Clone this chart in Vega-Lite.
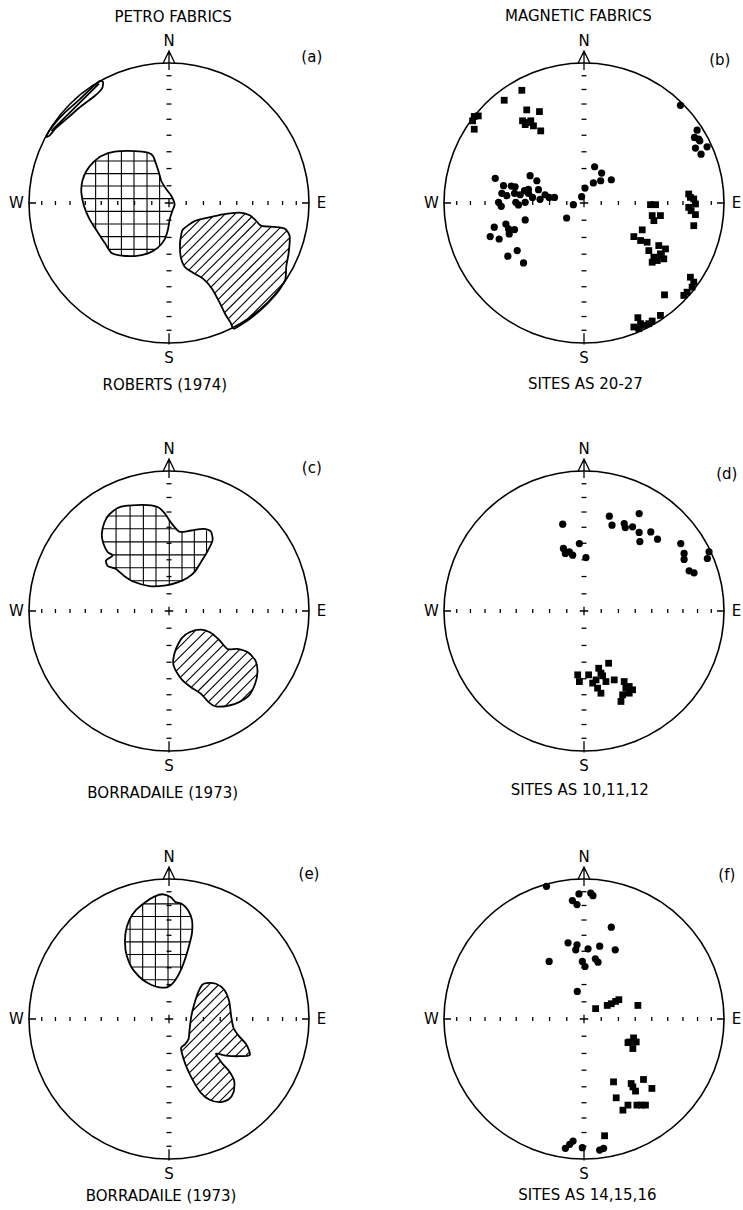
{
  "$schema": "https://vega.github.io/schema/vega-lite/v6.json",
  "padding": 0,
  "background": "white",
  "bounds": "flush",
  "data": {
    "values": [
      {"k":"pt","az":10,"p":["a","b","c","d","e","f"]},{"k":"pt","az":20,"p":["a","b","c","d","e","f"]},{"k":"pt","az":30,"p":["a","b","c","d","e","f"]},{"k":"pt","az":40,"p":["a","b","c","d","e","f"]},
      {"k":"pt","az":50,"p":["a","b","c","d","e","f"]},{"k":"pt","az":60,"p":["a","b","c","d","e","f"]},{"k":"pt","az":70,"p":["a","b","c","d","e","f"]},{"k":"pt","az":80,"p":["a","b","c","d","e","f"]},
      {"k":"pt","az":100,"p":["a","b","c","d","e","f"]},{"k":"pt","az":110,"p":["a","b","c","d","e","f"]},{"k":"pt","az":120,"p":["a","b","c","d","e","f"]},{"k":"pt","az":130,"p":["a","b","c","d","e","f"]},
      {"k":"pt","az":140,"p":["a","b","c","d","e","f"]},{"k":"pt","az":150,"p":["a","b","c","d","e","f"]},{"k":"pt","az":160,"p":["a","b","c","d","e","f"]},{"k":"pt","az":170,"p":["a","b","c","d","e","f"]},
      {"k":"pt","az":190,"p":["a","b","c","d","e","f"]},{"k":"pt","az":200,"p":["a","b","c","d","e","f"]},{"k":"pt","az":210,"p":["a","b","c","d","e","f"]},{"k":"pt","az":220,"p":["a","b","c","d","e","f"]},
      {"k":"pt","az":230,"p":["a","b","c","d","e","f"]},{"k":"pt","az":240,"p":["a","b","c","d","e","f"]},{"k":"pt","az":250,"p":["a","b","c","d","e","f"]},{"k":"pt","az":260,"p":["a","b","c","d","e","f"]},
      {"k":"pt","az":280,"p":["a","b","c","d","e","f"]},{"k":"pt","az":290,"p":["a","b","c","d","e","f"]},{"k":"pt","az":300,"p":["a","b","c","d","e","f"]},{"k":"pt","az":310,"p":["a","b","c","d","e","f"]},
      {"k":"pt","az":320,"p":["a","b","c","d","e","f"]},{"k":"pt","az":330,"p":["a","b","c","d","e","f"]},{"k":"pt","az":340,"p":["a","b","c","d","e","f"]},{"k":"pt","az":350,"p":["a","b","c","d","e","f"]},

      {"k":"ew","x":0.123,"y":0,"p":["a","b","c","d","e","f"]},{"k":"ew","x":0.246,"y":0,"p":["a","b","c","d","e","f"]},{"k":"ew","x":0.366,"y":0,"p":["a","b","c","d","e","f"]},{"k":"ew","x":0.484,"y":0,"p":["a","b","c","d","e","f"]},
      {"k":"ew","x":0.598,"y":0,"p":["a","b","c","d","e","f"]},{"k":"ew","x":0.707,"y":0,"p":["a","b","c","d","e","f"]},{"k":"ew","x":0.811,"y":0,"p":["a","b","c","d","e","f"]},{"k":"ew","x":0.909,"y":0,"p":["a","b","c","d","e","f"]},
      {"k":"ew","x":-0.123,"y":0,"p":["a","b","c","d","e","f"]},{"k":"ew","x":-0.246,"y":0,"p":["a","b","c","d","e","f"]},{"k":"ew","x":-0.366,"y":0,"p":["a","b","c","d","e","f"]},{"k":"ew","x":-0.484,"y":0,"p":["a","b","c","d","e","f"]},
      {"k":"ew","x":-0.598,"y":0,"p":["a","b","c","d","e","f"]},{"k":"ew","x":-0.707,"y":0,"p":["a","b","c","d","e","f"]},{"k":"ew","x":-0.811,"y":0,"p":["a","b","c","d","e","f"]},{"k":"ew","x":-0.909,"y":0,"p":["a","b","c","d","e","f"]},
      {"k":"ns","x":0,"y":0.123,"p":["a","b","c","d","e","f"]},{"k":"ns","x":0,"y":0.246,"p":["a","b","c","d","e","f"]},{"k":"ns","x":0,"y":0.366,"p":["a","b","c","d","e","f"]},{"k":"ns","x":0,"y":0.484,"p":["a","b","c","d","e","f"]},
      {"k":"ns","x":0,"y":0.598,"p":["a","b","c","d","e","f"]},{"k":"ns","x":0,"y":0.707,"p":["a","b","c","d","e","f"]},{"k":"ns","x":0,"y":0.811,"p":["a","b","c","d","e","f"]},{"k":"ns","x":0,"y":0.909,"p":["a","b","c","d","e","f"]},
      {"k":"ns","x":0,"y":-0.123,"p":["a","b","c","d","e","f"]},{"k":"ns","x":0,"y":-0.246,"p":["a","b","c","d","e","f"]},{"k":"ns","x":0,"y":-0.366,"p":["a","b","c","d","e","f"]},{"k":"ns","x":0,"y":-0.484,"p":["a","b","c","d","e","f"]},
      {"k":"ns","x":0,"y":-0.598,"p":["a","b","c","d","e","f"]},{"k":"ns","x":0,"y":-0.707,"p":["a","b","c","d","e","f"]},{"k":"ns","x":0,"y":-0.811,"p":["a","b","c","d","e","f"]},{"k":"ns","x":0,"y":-0.909,"p":["a","b","c","d","e","f"]},

      {"k":"nsew","t":"N","x":0,"y":1.155,"p":["a","b","c","d","e","f"]},
      {"k":"nsew","t":"S","x":0,"y":-1.11,"p":["a","b","c","d","e","f"]},
      {"k":"nsew","t":"W","x":-1.09,"y":0,"p":["a","b","c","d","e","f"]},
      {"k":"nsew","t":"E","x":1.09,"y":0,"p":["a","b","c","d","e","f"]},

      {"k":"lab","t":"(a)","x":1.02,"y":1.045,"p":["a"]},
      {"k":"lab","t":"(b)","x":0.97,"y":1.02,"p":["b"]},
      {"k":"lab","t":"(c)","x":1.02,"y":1.024,"p":["c"]},
      {"k":"lab","t":"(d)","x":1.02,"y":0.976,"p":["d"]},
      {"k":"lab","t":"(e)","x":1.0,"y":1.036,"p":["e"]},
      {"k":"lab","t":"(f)","x":1.02,"y":1.029,"p":["f"]},

      {"k":"cap","t":"PETRO FABRICS","x":0.03,"y":1.33,"p":["a"]},
      {"k":"cap","t":"MAGNETIC FABRICS","x":-0.04,"y":1.335,"p":["b"]},
      {"k":"cap","t":"ROBERTS (1974)","x":-0.03,"y":-1.3,"p":["a"]},
      {"k":"cap","t":"SITES  AS 20-27","x":0.01,"y":-1.295,"p":["b"]},
      {"k":"cap","t":"BORRADAILE (1973)","x":-0.045,"y":-1.297,"p":["c"]},
      {"k":"cap","t":"SITES  AS 10,11,12","x":-0.03,"y":-1.276,"p":["d"]},
      {"k":"cap","t":"BORRADAILE (1973)","x":-0.057,"y":-1.264,"p":["e"]},
      {"k":"cap","t":"SITES  AS 14,15,16","x":0.024,"y":-1.257,"p":["f"]},

      {"k":"h","x":-0.524,"y":0.305,"x2":-0.524,"y2":-0.188,"p":["a"]},
      {"k":"h","x":-0.433,"y":0.352,"x2":-0.433,"y2":-0.321,"p":["a"]},
      {"k":"h","x":-0.340,"y":0.369,"x2":-0.340,"y2":-0.374,"p":["a"]},
      {"k":"h","x":-0.250,"y":0.371,"x2":-0.250,"y2":-0.379,"p":["a"]},
      {"k":"h","x":-0.157,"y":0.362,"x2":-0.157,"y2":-0.362,"p":["a"]},
      {"k":"h","x":-0.067,"y":0.200,"x2":-0.067,"y2":-0.305,"p":["a"]},
      {"k":"h","x":-0.529,"y":0.300,"x2":-0.100,"y2":0.300,"p":["a"]},
      {"k":"h","x":-0.598,"y":0.210,"x2":-0.069,"y2":0.210,"p":["a"]},
      {"k":"h","x":-0.624,"y":0.121,"x2":-0.033,"y2":0.121,"p":["a"]},
      {"k":"h","x":-0.617,"y":0.031,"x2":0.024,"y2":0.031,"p":["a"]},
      {"k":"h","x":-0.590,"y":-0.060,"x2":0.023,"y2":-0.060,"p":["a"]},
      {"k":"h","x":-0.545,"y":-0.150,"x2":0.000,"y2":-0.150,"p":["a"]},
      {"k":"h","x":-0.488,"y":-0.240,"x2":-0.024,"y2":-0.240,"p":["a"]},
      {"k":"h","x":-0.429,"y":-0.331,"x2":-0.100,"y2":-0.331,"p":["a"]},

      {"k":"h","x":0.083,"y":-0.257,"x2":0.220,"y2":-0.120,"p":["a"]},
      {"k":"h","x":0.081,"y":-0.329,"x2":0.312,"y2":-0.097,"p":["a"]},
      {"k":"h","x":0.088,"y":-0.392,"x2":0.400,"y2":-0.080,"p":["a"]},
      {"k":"h","x":0.107,"y":-0.443,"x2":0.478,"y2":-0.072,"p":["a"]},
      {"k":"h","x":0.143,"y":-0.477,"x2":0.541,"y2":-0.079,"p":["a"]},
      {"k":"h","x":0.184,"y":-0.506,"x2":0.590,"y2":-0.100,"p":["a"]},
      {"k":"h","x":0.228,"y":-0.532,"x2":0.628,"y2":-0.132,"p":["a"]},
      {"k":"h","x":0.265,"y":-0.565,"x2":0.666,"y2":-0.164,"p":["a"]},
      {"k":"h","x":0.298,"y":-0.602,"x2":0.731,"y2":-0.169,"p":["a"]},
      {"k":"h","x":0.325,"y":-0.645,"x2":0.793,"y2":-0.177,"p":["a"]},
      {"k":"h","x":0.350,"y":-0.690,"x2":0.839,"y2":-0.201,"p":["a"]},
      {"k":"h","x":0.374,"y":-0.736,"x2":0.861,"y2":-0.249,"p":["a"]},
      {"k":"h","x":0.396,"y":-0.784,"x2":0.857,"y2":-0.323,"p":["a"]},
      {"k":"h","x":0.423,"y":-0.827,"x2":0.846,"y2":-0.404,"p":["a"]},
      {"k":"h","x":0.448,"y":-0.872,"x2":0.835,"y2":-0.485,"p":["a"]},
      {"k":"h","x":0.535,"y":-0.855,"x2":0.812,"y2":-0.578,"p":["a"]},

      {"k":"h","x":-0.378,"y":0.722,"x2":-0.378,"y2":0.299,"p":["c"]},
      {"k":"h","x":-0.278,"y":0.751,"x2":-0.278,"y2":0.223,"p":["c"]},
      {"k":"h","x":-0.183,"y":0.758,"x2":-0.183,"y2":0.188,"p":["c"]},
      {"k":"h","x":-0.093,"y":0.746,"x2":-0.093,"y2":0.178,"p":["c"]},
      {"k":"h","x":0.002,"y":0.650,"x2":0.002,"y2":0.187,"p":["c"]},
      {"k":"h","x":0.093,"y":0.568,"x2":0.093,"y2":0.216,"p":["c"]},
      {"k":"h","x":0.181,"y":0.576,"x2":0.181,"y2":0.276,"p":["c"]},
      {"k":"h","x":0.268,"y":0.576,"x2":0.268,"y2":0.413,"p":["c"]},
      {"k":"h","x":-0.432,"y":0.679,"x2":-0.017,"y2":0.679,"p":["c"]},
      {"k":"h","x":-0.471,"y":0.587,"x2":0.055,"y2":0.587,"p":["c"]},
      {"k":"h","x":-0.471,"y":0.494,"x2":0.308,"y2":0.494,"p":["c"]},
      {"k":"h","x":-0.412,"y":0.401,"x2":0.261,"y2":0.401,"p":["c"]},
      {"k":"h","x":-0.410,"y":0.309,"x2":0.204,"y2":0.309,"p":["c"]},
      {"k":"h","x":-0.267,"y":0.216,"x2":0.102,"y2":0.216,"p":["c"]},

      {"k":"h","x":0.047,"y":-0.283,"x2":0.188,"y2":-0.142,"p":["c"]},
      {"k":"h","x":0.032,"y":-0.373,"x2":0.262,"y2":-0.143,"p":["c"]},
      {"k":"h","x":0.051,"y":-0.429,"x2":0.312,"y2":-0.168,"p":["c"]},
      {"k":"h","x":0.081,"y":-0.474,"x2":0.353,"y2":-0.202,"p":["c"]},
      {"k":"h","x":0.118,"y":-0.512,"x2":0.390,"y2":-0.240,"p":["c"]},
      {"k":"h","x":0.159,"y":-0.546,"x2":0.434,"y2":-0.271,"p":["c"]},
      {"k":"h","x":0.205,"y":-0.575,"x2":0.504,"y2":-0.276,"p":["c"]},
      {"k":"h","x":0.245,"y":-0.610,"x2":0.559,"y2":-0.296,"p":["c"]},
      {"k":"h","x":0.281,"y":-0.649,"x2":0.597,"y2":-0.333,"p":["c"]},
      {"k":"h","x":0.327,"y":-0.678,"x2":0.623,"y2":-0.382,"p":["c"]},
      {"k":"h","x":0.403,"y":-0.677,"x2":0.629,"y2":-0.451,"p":["c"]},
      {"k":"h","x":0.510,"y":-0.645,"x2":0.594,"y2":-0.562,"p":["c"]},

      {"k":"h","x":-0.278,"y":0.715,"x2":-0.278,"y2":0.392,"p":["e"]},
      {"k":"h","x":-0.188,"y":0.819,"x2":-0.188,"y2":0.280,"p":["e"]},
      {"k":"h","x":-0.097,"y":0.876,"x2":-0.097,"y2":0.235,"p":["e"]},
      {"k":"h","x":-0.007,"y":0.877,"x2":-0.007,"y2":0.228,"p":["e"]},
      {"k":"h","x":0.083,"y":0.825,"x2":0.083,"y2":0.347,"p":["e"]},
      {"k":"h","x":-0.184,"y":0.822,"x2":0.093,"y2":0.822,"p":["e"]},
      {"k":"h","x":-0.267,"y":0.732,"x2":0.154,"y2":0.732,"p":["e"]},
      {"k":"h","x":-0.303,"y":0.641,"x2":0.164,"y2":0.641,"p":["e"]},
      {"k":"h","x":-0.311,"y":0.551,"x2":0.150,"y2":0.551,"p":["e"]},
      {"k":"h","x":-0.301,"y":0.461,"x2":0.125,"y2":0.461,"p":["e"]},
      {"k":"h","x":-0.266,"y":0.371,"x2":0.093,"y2":0.371,"p":["e"]},
      {"k":"h","x":-0.188,"y":0.280,"x2":0.045,"y2":0.280,"p":["e"]},

      {"k":"h","x":0.197,"y":0.157,"x2":0.295,"y2":0.255,"p":["e"]},
      {"k":"h","x":0.169,"y":0.059,"x2":0.351,"y2":0.241,"p":["e"]},
      {"k":"h","x":0.153,"y":-0.027,"x2":0.391,"y2":0.211,"p":["e"]},
      {"k":"h","x":0.144,"y":-0.106,"x2":0.414,"y2":0.164,"p":["e"]},
      {"k":"h","x":0.091,"y":-0.229,"x2":0.432,"y2":0.112,"p":["e"]},
      {"k":"h","x":0.105,"y":-0.285,"x2":0.440,"y2":0.050,"p":["e"]},
      {"k":"h","x":0.124,"y":-0.336,"x2":0.450,"y2":-0.010,"p":["e"]},
      {"k":"h","x":0.145,"y":-0.385,"x2":0.463,"y2":-0.067,"p":["e"]},
      {"k":"h","x":0.169,"y":-0.431,"x2":0.491,"y2":-0.109,"p":["e"]},
      {"k":"h","x":0.194,"y":-0.476,"x2":0.369,"y2":-0.301,"p":["e"]},
      {"k":"h","x":0.409,"y":-0.261,"x2":0.522,"y2":-0.148,"p":["e"]},
      {"k":"h","x":0.222,"y":-0.518,"x2":0.400,"y2":-0.339,"p":["e"]},
      {"k":"h","x":0.475,"y":-0.265,"x2":0.554,"y2":-0.186,"p":["e"]},
      {"k":"h","x":0.258,"y":-0.552,"x2":0.432,"y2":-0.378,"p":["e"]},
      {"k":"h","x":0.550,"y":-0.260,"x2":0.571,"y2":-0.239,"p":["e"]},
      {"k":"h","x":0.301,"y":-0.579,"x2":0.456,"y2":-0.424,"p":["e"]},
      {"k":"h","x":0.357,"y":-0.593,"x2":0.463,"y2":-0.487,"p":["e"]},

      {"k":"o","id":"a1","i":0,"x":-0.150,"y":0.360,"p":["a"]},{"k":"o","id":"a1","i":1,"x":-0.114,"y":0.336,"p":["a"]},{"k":"o","id":"a1","i":2,"x":-0.079,"y":0.240,"p":["a"]},
      {"k":"o","id":"a1","i":3,"x":-0.055,"y":0.157,"p":["a"]},{"k":"o","id":"a1","i":4,"x":-0.019,"y":0.098,"p":["a"]},{"k":"o","id":"a1","i":5,"x":0.017,"y":0.050,"p":["a"]},
      {"k":"o","id":"a1","i":6,"x":0.040,"y":-0.010,"p":["a"]},{"k":"o","id":"a1","i":7,"x":0.024,"y":-0.057,"p":["a"]},{"k":"o","id":"a1","i":8,"x":0.005,"y":-0.117,"p":["a"]},
      {"k":"o","id":"a1","i":9,"x":-0.007,"y":-0.188,"p":["a"]},{"k":"o","id":"a1","i":10,"x":-0.031,"y":-0.260,"p":["a"]},{"k":"o","id":"a1","i":11,"x":-0.079,"y":-0.319,"p":["a"]},
      {"k":"o","id":"a1","i":12,"x":-0.150,"y":-0.360,"p":["a"]},{"k":"o","id":"a1","i":13,"x":-0.245,"y":-0.379,"p":["a"]},{"k":"o","id":"a1","i":14,"x":-0.352,"y":-0.374,"p":["a"]},
      {"k":"o","id":"a1","i":15,"x":-0.412,"y":-0.355,"p":["a"]},{"k":"o","id":"a1","i":16,"x":-0.460,"y":-0.283,"p":["a"]},{"k":"o","id":"a1","i":17,"x":-0.507,"y":-0.212,"p":["a"]},
      {"k":"o","id":"a1","i":18,"x":-0.567,"y":-0.117,"p":["a"]},{"k":"o","id":"a1","i":19,"x":-0.607,"y":-0.021,"p":["a"]},{"k":"o","id":"a1","i":20,"x":-0.626,"y":0.074,"p":["a"]},
      {"k":"o","id":"a1","i":21,"x":-0.619,"y":0.157,"p":["a"]},{"k":"o","id":"a1","i":22,"x":-0.590,"y":0.229,"p":["a"]},{"k":"o","id":"a1","i":23,"x":-0.543,"y":0.288,"p":["a"]},
      {"k":"o","id":"a1","i":24,"x":-0.483,"y":0.336,"p":["a"]},{"k":"o","id":"a1","i":25,"x":-0.388,"y":0.367,"p":["a"]},{"k":"o","id":"a1","i":26,"x":-0.245,"y":0.371,"p":["a"]},

      {"k":"o","id":"a2","i":0,"x":0.100,"y":-0.188,"p":["a"]},{"k":"o","id":"a2","i":1,"x":0.183,"y":-0.129,"p":["a"]},{"k":"o","id":"a2","i":2,"x":0.279,"y":-0.105,"p":["a"]},
      {"k":"o","id":"a2","i":3,"x":0.386,"y":-0.081,"p":["a"]},{"k":"o","id":"a2","i":4,"x":0.505,"y":-0.069,"p":["a"]},{"k":"o","id":"a2","i":5,"x":0.576,"y":-0.088,"p":["a"]},
      {"k":"o","id":"a2","i":6,"x":0.624,"y":-0.129,"p":["a"]},{"k":"o","id":"a2","i":7,"x":0.660,"y":-0.164,"p":["a"]},{"k":"o","id":"a2","i":8,"x":0.755,"y":-0.171,"p":["a"]},
      {"k":"o","id":"a2","i":9,"x":0.826,"y":-0.183,"p":["a"]},{"k":"o","id":"a2","i":10,"x":0.862,"y":-0.236,"p":["a"]},{"k":"o","id":"a2","i":11,"x":0.855,"y":-0.355,"p":["a"]},
      {"k":"o","id":"a2","i":12,"x":0.838,"y":-0.450,"p":["a"]},{"k":"o","id":"a2","i":13,"x":0.831,"y":-0.545,"p":["a"]},{"k":"o","id":"a2","i":14,"x":0.790,"y":-0.617,"p":["a"]},
      {"k":"o","id":"a2","i":15,"x":0.731,"y":-0.688,"p":["a"]},{"k":"o","id":"a2","i":16,"x":0.660,"y":-0.760,"p":["a"]},{"k":"o","id":"a2","i":17,"x":0.588,"y":-0.819,"p":["a"]},
      {"k":"o","id":"a2","i":18,"x":0.517,"y":-0.867,"p":["a"]},{"k":"o","id":"a2","i":19,"x":0.462,"y":-0.898,"p":["a"]},{"k":"o","id":"a2","i":20,"x":0.440,"y":-0.855,"p":["a"]},
      {"k":"o","id":"a2","i":21,"x":0.402,"y":-0.795,"p":["a"]},{"k":"o","id":"a2","i":22,"x":0.362,"y":-0.712,"p":["a"]},{"k":"o","id":"a2","i":23,"x":0.307,"y":-0.612,"p":["a"]},
      {"k":"o","id":"a2","i":24,"x":0.243,"y":-0.540,"p":["a"]},{"k":"o","id":"a2","i":25,"x":0.171,"y":-0.498,"p":["a"]},{"k":"o","id":"a2","i":26,"x":0.112,"y":-0.455,"p":["a"]},
      {"k":"o","id":"a2","i":27,"x":0.083,"y":-0.379,"p":["a"]},{"k":"o","id":"a2","i":28,"x":0.079,"y":-0.283,"p":["a"]},{"k":"o","id":"a2","i":29,"x":0.088,"y":-0.224,"p":["a"]},

      {"k":"o","id":"a3","i":0,"x":-0.876,"y":0.474,"p":["a"]},{"k":"o","id":"a3","i":1,"x":-0.840,"y":0.538,"p":["a"]},{"k":"o","id":"a3","i":2,"x":-0.745,"y":0.645,"p":["a"]},
      {"k":"o","id":"a3","i":3,"x":-0.638,"y":0.740,"p":["a"]},{"k":"o","id":"a3","i":4,"x":-0.543,"y":0.831,"p":["a"]},{"k":"o","id":"a3","i":5,"x":-0.495,"y":0.871,"p":["a"]},
      {"k":"o","id":"a3","i":6,"x":-0.471,"y":0.864,"p":["a"]},{"k":"o","id":"a3","i":7,"x":-0.479,"y":0.817,"p":["a"]},{"k":"o","id":"a3","i":8,"x":-0.531,"y":0.764,"p":["a"]},
      {"k":"o","id":"a3","i":9,"x":-0.626,"y":0.693,"p":["a"]},{"k":"o","id":"a3","i":10,"x":-0.721,"y":0.610,"p":["a"]},{"k":"o","id":"a3","i":11,"x":-0.805,"y":0.538,"p":["a"]},
      {"k":"o","id":"a3","i":12,"x":-0.852,"y":0.483,"p":["a"]},
      {"k":"o","id":"a4","i":0,"x":-0.840,"y":0.515,"p":["a"]},{"k":"o","id":"a4","i":1,"x":-0.500,"y":0.852,"p":["a"]},

      {"k":"o","id":"c1","i":0,"x":-0.425,"y":0.691,"p":["c"]},{"k":"o","id":"c1","i":1,"x":-0.342,"y":0.746,"p":["c"]},{"k":"o","id":"c1","i":2,"x":-0.188,"y":0.758,"p":["c"]},
      {"k":"o","id":"c1","i":3,"x":-0.081,"y":0.743,"p":["c"]},{"k":"o","id":"c1","i":4,"x":-0.029,"y":0.696,"p":["c"]},{"k":"o","id":"c1","i":5,"x":0.014,"y":0.632,"p":["c"]},
      {"k":"o","id":"c1","i":6,"x":0.074,"y":0.566,"p":["c"]},{"k":"o","id":"c1","i":7,"x":0.157,"y":0.575,"p":["c"]},{"k":"o","id":"c1","i":8,"x":0.245,"y":0.587,"p":["c"]},
      {"k":"o","id":"c1","i":9,"x":0.299,"y":0.568,"p":["c"]},{"k":"o","id":"c1","i":10,"x":0.311,"y":0.504,"p":["c"]},{"k":"o","id":"c1","i":11,"x":0.276,"y":0.428,"p":["c"]},
      {"k":"o","id":"c1","i":12,"x":0.228,"y":0.349,"p":["c"]},{"k":"o","id":"c1","i":13,"x":0.188,"y":0.285,"p":["c"]},{"k":"o","id":"c1","i":14,"x":0.133,"y":0.237,"p":["c"]},
      {"k":"o","id":"c1","i":15,"x":0.062,"y":0.204,"p":["c"]},{"k":"o","id":"c1","i":16,"x":-0.021,"y":0.183,"p":["c"]},{"k":"o","id":"c1","i":17,"x":-0.140,"y":0.178,"p":["c"]},
      {"k":"o","id":"c1","i":18,"x":-0.247,"y":0.207,"p":["c"]},{"k":"o","id":"c1","i":19,"x":-0.318,"y":0.249,"p":["c"]},{"k":"o","id":"c1","i":20,"x":-0.382,"y":0.302,"p":["c"]},
      {"k":"o","id":"c1","i":21,"x":-0.437,"y":0.321,"p":["c"]},{"k":"o","id":"c1","i":22,"x":-0.449,"y":0.361,"p":["c"]},{"k":"o","id":"c1","i":23,"x":-0.401,"y":0.397,"p":["c"]},
      {"k":"o","id":"c1","i":24,"x":-0.437,"y":0.420,"p":["c"]},{"k":"o","id":"c1","i":25,"x":-0.468,"y":0.480,"p":["c"]},{"k":"o","id":"c1","i":26,"x":-0.480,"y":0.551,"p":["c"]},
      {"k":"o","id":"c1","i":27,"x":-0.461,"y":0.634,"p":["c"]},

      {"k":"o","id":"c2","i":0,"x":0.031,"y":-0.342,"p":["c"]},{"k":"o","id":"c2","i":1,"x":0.050,"y":-0.271,"p":["c"]},{"k":"o","id":"c2","i":2,"x":0.093,"y":-0.192,"p":["c"]},
      {"k":"o","id":"c2","i":3,"x":0.150,"y":-0.150,"p":["c"]},{"k":"o","id":"c2","i":4,"x":0.228,"y":-0.133,"p":["c"]},{"k":"o","id":"c2","i":5,"x":0.292,"y":-0.152,"p":["c"]},
      {"k":"o","id":"c2","i":6,"x":0.359,"y":-0.207,"p":["c"]},{"k":"o","id":"c2","i":7,"x":0.418,"y":-0.271,"p":["c"]},{"k":"o","id":"c2","i":8,"x":0.489,"y":-0.271,"p":["c"]},
      {"k":"o","id":"c2","i":9,"x":0.568,"y":-0.299,"p":["c"]},{"k":"o","id":"c2","i":10,"x":0.620,"y":-0.359,"p":["c"]},{"k":"o","id":"c2","i":11,"x":0.632,"y":-0.437,"p":["c"]},
      {"k":"o","id":"c2","i":12,"x":0.615,"y":-0.520,"p":["c"]},{"k":"o","id":"c2","i":13,"x":0.572,"y":-0.603,"p":["c"]},{"k":"o","id":"c2","i":14,"x":0.501,"y":-0.651,"p":["c"]},
      {"k":"o","id":"c2","i":15,"x":0.430,"y":-0.675,"p":["c"]},{"k":"o","id":"c2","i":16,"x":0.335,"y":-0.682,"p":["c"]},{"k":"o","id":"c2","i":17,"x":0.283,"y":-0.651,"p":["c"]},
      {"k":"o","id":"c2","i":18,"x":0.228,"y":-0.591,"p":["c"]},{"k":"o","id":"c2","i":19,"x":0.157,"y":-0.544,"p":["c"]},{"k":"o","id":"c2","i":20,"x":0.097,"y":-0.496,"p":["c"]},
      {"k":"o","id":"c2","i":21,"x":0.055,"y":-0.437,"p":["c"]},{"k":"o","id":"c2","i":22,"x":0.033,"y":-0.390,"p":["c"]},

      {"k":"o","id":"e1","i":0,"x":-0.105,"y":0.874,"p":["e"]},{"k":"o","id":"e1","i":1,"x":-0.045,"y":0.891,"p":["e"]},{"k":"o","id":"e1","i":2,"x":0.014,"y":0.869,"p":["e"]},
      {"k":"o","id":"e1","i":3,"x":0.045,"y":0.836,"p":["e"]},{"k":"o","id":"e1","i":4,"x":0.093,"y":0.822,"p":["e"]},{"k":"o","id":"e1","i":5,"x":0.135,"y":0.779,"p":["e"]},
      {"k":"o","id":"e1","i":6,"x":0.164,"y":0.708,"p":["e"]},{"k":"o","id":"e1","i":7,"x":0.164,"y":0.613,"p":["e"]},{"k":"o","id":"e1","i":8,"x":0.145,"y":0.530,"p":["e"]},
      {"k":"o","id":"e1","i":9,"x":0.121,"y":0.447,"p":["e"]},{"k":"o","id":"e1","i":10,"x":0.086,"y":0.352,"p":["e"]},{"k":"o","id":"e1","i":11,"x":0.038,"y":0.268,"p":["e"]},
      {"k":"o","id":"e1","i":12,"x":-0.010,"y":0.228,"p":["e"]},{"k":"o","id":"e1","i":13,"x":-0.069,"y":0.226,"p":["e"]},{"k":"o","id":"e1","i":14,"x":-0.128,"y":0.245,"p":["e"]},
      {"k":"o","id":"e1","i":15,"x":-0.188,"y":0.280,"p":["e"]},{"k":"o","id":"e1","i":16,"x":-0.247,"y":0.340,"p":["e"]},{"k":"o","id":"e1","i":17,"x":-0.283,"y":0.399,"p":["e"]},
      {"k":"o","id":"e1","i":18,"x":-0.311,"y":0.494,"p":["e"]},{"k":"o","id":"e1","i":19,"x":-0.311,"y":0.613,"p":["e"]},{"k":"o","id":"e1","i":20,"x":-0.283,"y":0.708,"p":["e"]},
      {"k":"o","id":"e1","i":21,"x":-0.235,"y":0.779,"p":["e"]},{"k":"o","id":"e1","i":22,"x":-0.164,"y":0.838,"p":["e"]},

      {"k":"o","id":"e2","i":0,"x":0.264,"y":0.257,"p":["e"]},{"k":"o","id":"e2","i":1,"x":0.335,"y":0.252,"p":["e"]},{"k":"o","id":"e2","i":2,"x":0.394,"y":0.209,"p":["e"]},
      {"k":"o","id":"e2","i":3,"x":0.430,"y":0.126,"p":["e"]},{"k":"o","id":"e2","i":4,"x":0.444,"y":0.019,"p":["e"]},{"k":"o","id":"e2","i":5,"x":0.461,"y":-0.064,"p":["e"]},
      {"k":"o","id":"e2","i":6,"x":0.501,"y":-0.124,"p":["e"]},{"k":"o","id":"e2","i":7,"x":0.553,"y":-0.183,"p":["e"]},{"k":"o","id":"e2","i":8,"x":0.577,"y":-0.257,"p":["e"]},
      {"k":"o","id":"e2","i":9,"x":0.489,"y":-0.266,"p":["e"]},{"k":"o","id":"e2","i":10,"x":0.406,"y":-0.261,"p":["e"]},{"k":"o","id":"e2","i":11,"x":0.335,"y":-0.247,"p":["e"]},
      {"k":"o","id":"e2","i":12,"x":0.378,"y":-0.314,"p":["e"]},{"k":"o","id":"e2","i":13,"x":0.430,"y":-0.373,"p":["e"]},{"k":"o","id":"e2","i":14,"x":0.466,"y":-0.444,"p":["e"]},
      {"k":"o","id":"e2","i":15,"x":0.461,"y":-0.523,"p":["e"]},{"k":"o","id":"e2","i":16,"x":0.425,"y":-0.575,"p":["e"]},{"k":"o","id":"e2","i":17,"x":0.359,"y":-0.594,"p":["e"]},
      {"k":"o","id":"e2","i":18,"x":0.287,"y":-0.575,"p":["e"]},{"k":"o","id":"e2","i":19,"x":0.228,"y":-0.527,"p":["e"]},{"k":"o","id":"e2","i":20,"x":0.181,"y":-0.456,"p":["e"]},
      {"k":"o","id":"e2","i":21,"x":0.133,"y":-0.361,"p":["e"]},{"k":"o","id":"e2","i":22,"x":0.102,"y":-0.278,"p":["e"]},{"k":"o","id":"e2","i":23,"x":0.086,"y":-0.207,"p":["e"]},
      {"k":"o","id":"e2","i":24,"x":0.112,"y":-0.183,"p":["e"]},{"k":"o","id":"e2","i":25,"x":0.140,"y":-0.143,"p":["e"]},{"k":"o","id":"e2","i":26,"x":0.147,"y":-0.076,"p":["e"]},
      {"k":"o","id":"e2","i":27,"x":0.159,"y":0.019,"p":["e"]},{"k":"o","id":"e2","i":28,"x":0.181,"y":0.109,"p":["e"]},{"k":"o","id":"e2","i":29,"x":0.209,"y":0.192,"p":["e"]},
      {"k":"o","id":"e2","i":30,"x":0.235,"y":0.242,"p":["e"]},

      {"k":"sq","x":-0.444,"y":0.805,"p":["b"]},{"k":"sq","x":-0.570,"y":0.734,"p":["b"]},{"k":"sq","x":-0.409,"y":0.665,"p":["b"]},{"k":"sq","x":-0.318,"y":0.653,"p":["b"]},
      {"k":"sq","x":-0.439,"y":0.587,"p":["b"]},{"k":"sq","x":-0.404,"y":0.575,"p":["b"]},{"k":"sq","x":-0.380,"y":0.587,"p":["b"]},{"k":"sq","x":-0.361,"y":0.551,"p":["b"]},
      {"k":"sq","x":-0.309,"y":0.515,"p":["b"]},{"k":"sq","x":-0.420,"y":0.560,"p":["b"]},{"k":"sq","x":-0.784,"y":0.618,"p":["b"]},{"k":"sq","x":-0.755,"y":0.622,"p":["b"]},
      {"k":"sq","x":-0.796,"y":0.587,"p":["b"]},{"k":"sq","x":-0.784,"y":0.527,"p":["b"]},
      {"k":"sq","x":0.748,"y":0.064,"p":["b"]},{"k":"sq","x":0.760,"y":0.040,"p":["b"]},{"k":"sq","x":0.784,"y":0.029,"p":["b"]},{"k":"sq","x":0.748,"y":-0.031,"p":["b"]},
      {"k":"sq","x":0.796,"y":-0.007,"p":["b"]},{"k":"sq","x":0.765,"y":-0.055,"p":["b"]},{"k":"sq","x":0.796,"y":-0.083,"p":["b"]},{"k":"sq","x":0.784,"y":-0.162,"p":["b"]},
      {"k":"sq","x":0.475,"y":-0.012,"p":["b"]},{"k":"sq","x":0.511,"y":-0.012,"p":["b"]},{"k":"sq","x":0.487,"y":-0.090,"p":["b"]},{"k":"sq","x":0.499,"y":-0.126,"p":["b"]},
      {"k":"sq","x":0.546,"y":-0.090,"p":["b"]},{"k":"sq","x":0.416,"y":-0.192,"p":["b"]},{"k":"sq","x":0.356,"y":-0.240,"p":["b"]},{"k":"sq","x":0.404,"y":-0.268,"p":["b"]},
      {"k":"sq","x":0.451,"y":-0.280,"p":["b"]},{"k":"sq","x":0.463,"y":-0.340,"p":["b"]},{"k":"sq","x":0.534,"y":-0.304,"p":["b"]},{"k":"sq","x":0.582,"y":-0.328,"p":["b"]},
      {"k":"sq","x":0.546,"y":-0.363,"p":["b"]},{"k":"sq","x":0.499,"y":-0.387,"p":["b"]},{"k":"sq","x":0.570,"y":-0.399,"p":["b"]},{"k":"sq","x":0.487,"y":-0.423,"p":["b"]},
      {"k":"sq","x":0.523,"y":-0.411,"p":["b"]},{"k":"sq","x":0.553,"y":-0.375,"p":["b"]},
      {"k":"sq","x":0.760,"y":-0.530,"p":["b"]},{"k":"sq","x":0.784,"y":-0.565,"p":["b"]},{"k":"sq","x":0.736,"y":-0.637,"p":["b"]},{"k":"sq","x":0.713,"y":-0.660,"p":["b"]},
      {"k":"sq","x":0.575,"y":-0.656,"p":["b"]},{"k":"sq","x":0.772,"y":-0.601,"p":["b"]},
      {"k":"sq","x":0.385,"y":-0.819,"p":["b"]},{"k":"sq","x":0.546,"y":-0.803,"p":["b"]},{"k":"sq","x":0.356,"y":-0.886,"p":["b"]},{"k":"sq","x":0.392,"y":-0.898,"p":["b"]},
      {"k":"sq","x":0.428,"y":-0.874,"p":["b"]},{"k":"sq","x":0.463,"y":-0.862,"p":["b"]},{"k":"sq","x":0.487,"y":-0.843,"p":["b"]},{"k":"sq","x":0.404,"y":-0.862,"p":["b"]},

      {"k":"ci","x":-0.634,"y":0.176,"p":["b"]},{"k":"ci","x":-0.385,"y":0.195,"p":["b"]},{"k":"ci","x":-0.337,"y":0.159,"p":["b"]},{"k":"ci","x":-0.575,"y":0.124,"p":["b"]},
      {"k":"ci","x":-0.520,"y":0.121,"p":["b"]},{"k":"ci","x":-0.492,"y":0.116,"p":["b"]},{"k":"ci","x":-0.425,"y":0.088,"p":["b"]},{"k":"ci","x":-0.397,"y":0.097,"p":["b"]},
      {"k":"ci","x":-0.325,"y":0.095,"p":["b"]},{"k":"ci","x":-0.587,"y":0.069,"p":["b"]},{"k":"ci","x":-0.551,"y":0.052,"p":["b"]},{"k":"ci","x":-0.496,"y":0.069,"p":["b"]},
      {"k":"ci","x":-0.456,"y":0.059,"p":["b"]},{"k":"ci","x":-0.397,"y":0.069,"p":["b"]},{"k":"ci","x":-0.368,"y":0.040,"p":["b"]},{"k":"ci","x":-0.314,"y":0.026,"p":["b"]},
      {"k":"ci","x":-0.278,"y":0.059,"p":["b"]},{"k":"ci","x":-0.249,"y":0.040,"p":["b"]},{"k":"ci","x":-0.211,"y":0.040,"p":["b"]},{"k":"ci","x":-0.610,"y":0.005,"p":["b"]},
      {"k":"ci","x":-0.591,"y":-0.024,"p":["b"]},{"k":"ci","x":-0.487,"y":0.005,"p":["b"]},{"k":"ci","x":-0.468,"y":-0.014,"p":["b"]},{"k":"ci","x":-0.420,"y":0.005,"p":["b"]},
      {"k":"ci","x":-0.420,"y":-0.121,"p":["b"]},{"k":"ci","x":-0.641,"y":-0.173,"p":["b"]},{"k":"ci","x":-0.558,"y":-0.150,"p":["b"]},{"k":"ci","x":-0.539,"y":-0.185,"p":["b"]},
      {"k":"ci","x":-0.496,"y":-0.190,"p":["b"]},{"k":"ci","x":-0.534,"y":-0.221,"p":["b"]},{"k":"ci","x":-0.670,"y":-0.240,"p":["b"]},{"k":"ci","x":-0.606,"y":-0.257,"p":["b"]},
      {"k":"ci","x":-0.477,"y":-0.340,"p":["b"]},{"k":"ci","x":-0.544,"y":-0.380,"p":["b"]},{"k":"ci","x":-0.432,"y":-0.428,"p":["b"]},
      {"k":"ci","x":-0.124,"y":-0.107,"p":["b"]},{"k":"ci","x":-0.076,"y":-0.012,"p":["b"]},{"k":"ci","x":-0.017,"y":0.045,"p":["b"]},{"k":"ci","x":0.007,"y":0.107,"p":["b"]},
      {"k":"ci","x":0.076,"y":0.259,"p":["b"]},{"k":"ci","x":0.126,"y":0.214,"p":["b"]},{"k":"ci","x":0.195,"y":0.166,"p":["b"]},{"k":"ci","x":0.067,"y":0.143,"p":["b"]},
      {"k":"ci","x":0.119,"y":0.159,"p":["b"]},
      {"k":"ci","x":0.689,"y":0.698,"p":["b"]},{"k":"ci","x":0.808,"y":0.520,"p":["b"]},{"k":"ci","x":0.819,"y":0.456,"p":["b"]},{"k":"ci","x":0.796,"y":0.392,"p":["b"]},
      {"k":"ci","x":0.836,"y":0.349,"p":["b"]},{"k":"ci","x":0.879,"y":0.401,"p":["b"]},{"k":"ci","x":0.827,"y":0.444,"p":["b"]},{"k":"ci","x":0.789,"y":0.468,"p":["b"]},

      {"k":"ci","x":-0.152,"y":0.620,"p":["d"]},{"k":"ci","x":-0.147,"y":0.447,"p":["d"]},{"k":"ci","x":-0.133,"y":0.411,"p":["d"]},{"k":"ci","x":-0.105,"y":0.423,"p":["d"]},
      {"k":"ci","x":-0.081,"y":0.399,"p":["d"]},{"k":"ci","x":-0.033,"y":0.482,"p":["d"]},{"k":"ci","x":0.014,"y":0.382,"p":["d"]},{"k":"ci","x":0.181,"y":0.677,"p":["d"]},
      {"k":"ci","x":0.200,"y":0.613,"p":["d"]},{"k":"ci","x":0.394,"y":0.696,"p":["d"]},{"k":"ci","x":0.287,"y":0.625,"p":["d"]},{"k":"ci","x":0.295,"y":0.596,"p":["d"]},
      {"k":"ci","x":0.347,"y":0.601,"p":["d"]},{"k":"ci","x":0.394,"y":0.561,"p":["d"]},{"k":"ci","x":0.399,"y":0.496,"p":["d"]},{"k":"ci","x":0.477,"y":0.565,"p":["d"]},
      {"k":"ci","x":0.525,"y":0.513,"p":["d"]},{"k":"ci","x":0.691,"y":0.482,"p":["d"]},{"k":"ci","x":0.715,"y":0.411,"p":["d"]},{"k":"ci","x":0.715,"y":0.368,"p":["d"]},
      {"k":"ci","x":0.751,"y":0.287,"p":["d"]},{"k":"ci","x":0.786,"y":0.273,"p":["d"]},{"k":"ci","x":0.893,"y":0.423,"p":["d"]},{"k":"ci","x":0.881,"y":0.375,"p":["d"]},

      {"k":"sq","x":-0.045,"y":-0.456,"p":["d"]},{"k":"sq","x":-0.033,"y":-0.504,"p":["d"]},{"k":"sq","x":0.033,"y":-0.456,"p":["d"]},{"k":"sq","x":0.105,"y":-0.409,"p":["d"]},
      {"k":"sq","x":0.176,"y":-0.373,"p":["d"]},{"k":"sq","x":0.086,"y":-0.492,"p":["d"]},{"k":"sq","x":0.121,"y":-0.444,"p":["d"]},{"k":"sq","x":0.062,"y":-0.515,"p":["d"]},
      {"k":"sq","x":0.097,"y":-0.551,"p":["d"]},{"k":"sq","x":0.121,"y":-0.587,"p":["d"]},{"k":"sq","x":0.157,"y":-0.504,"p":["d"]},{"k":"sq","x":0.216,"y":-0.492,"p":["d"]},
      {"k":"sq","x":0.287,"y":-0.504,"p":["d"]},{"k":"sq","x":0.299,"y":-0.551,"p":["d"]},{"k":"sq","x":0.276,"y":-0.599,"p":["d"]},{"k":"sq","x":0.264,"y":-0.646,"p":["d"]},
      {"k":"sq","x":0.323,"y":-0.539,"p":["d"]},{"k":"sq","x":0.347,"y":-0.563,"p":["d"]},{"k":"sq","x":0.323,"y":-0.587,"p":["d"]},{"k":"sq","x":0.133,"y":-0.463,"p":["d"]},

      {"k":"ci","x":-0.268,"y":0.948,"p":["f"]},{"k":"ci","x":-0.036,"y":0.893,"p":["f"]},{"k":"ci","x":0.048,"y":0.900,"p":["f"]},{"k":"ci","x":0.064,"y":0.881,"p":["f"]},
      {"k":"ci","x":-0.083,"y":0.846,"p":["f"]},{"k":"ci","x":-0.050,"y":0.817,"p":["f"]},{"k":"ci","x":0.195,"y":0.656,"p":["f"]},{"k":"ci","x":-0.114,"y":0.544,"p":["f"]},
      {"k":"ci","x":-0.050,"y":0.530,"p":["f"]},{"k":"ci","x":-0.059,"y":0.494,"p":["f"]},{"k":"ci","x":0.029,"y":0.501,"p":["f"]},{"k":"ci","x":0.112,"y":0.520,"p":["f"]},
      {"k":"ci","x":0.223,"y":0.494,"p":["f"]},{"k":"ci","x":-0.249,"y":0.411,"p":["f"]},{"k":"ci","x":-0.012,"y":0.411,"p":["f"]},{"k":"ci","x":0.007,"y":0.375,"p":["f"]},
      {"k":"ci","x":0.081,"y":0.430,"p":["f"]},{"k":"ci","x":0.100,"y":0.406,"p":["f"]},{"k":"ci","x":-0.048,"y":0.197,"p":["f"]},{"k":"ci","x":-0.133,"y":-0.924,"p":["f"]},
      {"k":"ci","x":-0.102,"y":-0.895,"p":["f"]},{"k":"ci","x":-0.078,"y":-0.872,"p":["f"]},{"k":"ci","x":-0.012,"y":-0.919,"p":["f"]},{"k":"ci","x":0.112,"y":-0.936,"p":["f"]},
      {"k":"ci","x":0.140,"y":-0.924,"p":["f"]},

      {"k":"sq","x":0.083,"y":0.074,"p":["f"]},{"k":"sq","x":0.166,"y":0.097,"p":["f"]},{"k":"sq","x":0.195,"y":0.109,"p":["f"]},{"k":"sq","x":0.226,"y":0.126,"p":["f"]},
      {"k":"sq","x":0.249,"y":0.138,"p":["f"]},{"k":"sq","x":0.385,"y":0.097,"p":["f"]},{"k":"sq","x":0.325,"y":-0.164,"p":["f"]},{"k":"sq","x":0.354,"y":-0.135,"p":["f"]},
      {"k":"sq","x":0.373,"y":-0.164,"p":["f"]},{"k":"sq","x":0.349,"y":-0.211,"p":["f"]},{"k":"sq","x":0.314,"y":-0.169,"p":["f"]},{"k":"sq","x":0.211,"y":-0.449,"p":["f"]},
      {"k":"sq","x":0.337,"y":-0.461,"p":["f"]},{"k":"sq","x":0.349,"y":-0.485,"p":["f"]},{"k":"sq","x":0.368,"y":-0.515,"p":["f"]},{"k":"sq","x":0.425,"y":-0.432,"p":["f"]},
      {"k":"sq","x":0.485,"y":-0.496,"p":["f"]},{"k":"sq","x":0.230,"y":-0.563,"p":["f"]},{"k":"sq","x":0.278,"y":-0.651,"p":["f"]},{"k":"sq","x":0.314,"y":-0.615,"p":["f"]},
      {"k":"sq","x":0.378,"y":-0.615,"p":["f"]},{"k":"sq","x":0.409,"y":-0.615,"p":["f"]},{"k":"sq","x":0.439,"y":-0.615,"p":["f"]},{"k":"sq","x":0.147,"y":-0.834,"p":["f"]}
    ]
  },
  "transform": [
    {"flatten": ["p"], "as": ["panel"]},
    {
      "lookup": "panel",
      "from": {
        "data": {"values": [
          {"panel": "a", "r": 0, "c": 0}, {"panel": "b", "r": 0, "c": 1},
          {"panel": "c", "r": 1, "c": 0}, {"panel": "d", "r": 1, "c": 1},
          {"panel": "e", "r": 2, "c": 0}, {"panel": "f", "r": 2, "c": 1}
        ]},
        "key": "panel",
        "fields": ["r", "c"]
      }
    }
  ],
  "facet": {
    "row": {"field": "r", "type": "ordinal", "header": null},
    "column": {"field": "c", "type": "ordinal", "header": null}
  },
  "spacing": {"row": 18, "column": 87},
  "spec": {
    "width": 328,
    "height": 390,
    "encoding": {
      "x": {"field": "x", "type": "quantitative", "scale": {"domain": [-1.2071, 1.1357], "nice": false, "zero": false}, "axis": null},
      "y": {"field": "y", "type": "quantitative", "scale": {"domain": [-1.3357, 1.45], "nice": false, "zero": false}, "axis": null}
    },
    "layer": [
      {
        "transform": [{"filter": "datum.k === 'h'"}],
        "mark": {"type": "rule", "color": "#000", "strokeWidth": 1.1},
        "encoding": {"x2": {"field": "x2"}, "y2": {"field": "y2"}}
      },
      {
        "transform": [{"filter": "datum.k === 'o'"}],
        "mark": {"type": "line", "color": "#000", "strokeWidth": 1.8, "interpolate": "cardinal-closed", "tension": 0.3},
        "encoding": {"detail": {"field": "id"}, "order": {"field": "i", "type": "quantitative"}}
      },
      {
        "transform": [{"filter": "datum.k === 'lab'"}],
        "mark": {"type": "point", "shape": "circle", "size": 78400, "filled": false, "color": "#000", "strokeWidth": 1.6, "opacity": 1},
        "encoding": {"x": {"datum": 0}, "y": {"datum": 0}}
      },
      {
        "transform": [{"filter": "datum.k === 'lab'"}],
        "mark": {"type": "point", "shape": "M-0.043,-0.997L0,-1.085L0.043,-0.997M0,-1.085L0,-0.95M0,0.93L0,1.01M-1,0L-0.95,0M1,0L0.95,0M-0.03,0L0.03,0M0,-0.03L0,0.03", "size": 78400, "filled": false, "color": "#000", "strokeWidth": 1.3, "opacity": 1},
        "encoding": {"x": {"datum": 0}, "y": {"datum": 0}}
      },
      {
        "transform": [{"filter": "datum.k === 'pt'"}],
        "mark": {"type": "point", "shape": "M0,-1L0,-0.968", "size": 78400, "filled": false, "color": "#000", "strokeWidth": 1.3, "opacity": 1},
        "encoding": {"x": {"datum": 0}, "y": {"datum": 0}, "angle": {"field": "az", "type": "quantitative", "scale": null}}
      },
      {
        "transform": [{"filter": "datum.k === 'ew'"}],
        "mark": {"type": "point", "shape": "M0,-1L0,1", "size": 16, "filled": false, "color": "#000", "strokeWidth": 1.3, "opacity": 1}
      },
      {
        "transform": [{"filter": "datum.k === 'ns'"}],
        "mark": {"type": "point", "shape": "M-1,0L1,0", "size": 25, "filled": false, "color": "#000", "strokeWidth": 1.3, "opacity": 1}
      },
      {
        "transform": [{"filter": "datum.k === 'sq'"}],
        "mark": {"type": "point", "shape": "square", "size": 46, "filled": true, "color": "#000", "opacity": 1}
      },
      {
        "transform": [{"filter": "datum.k === 'ci'"}],
        "mark": {"type": "point", "shape": "circle", "size": 52, "filled": true, "color": "#000", "opacity": 1}
      },
      {
        "transform": [{"filter": "datum.k === 'nsew' || datum.k === 'lab' || datum.k === 'cap'"}],
        "mark": {"type": "text", "font": "DejaVu Sans", "fontSize": 15, "align": "center", "baseline": "middle", "color": "#000"},
        "encoding": {"text": {"field": "t"}}
      }
    ]
  },
  "config": {"view": {"stroke": null}}
}
